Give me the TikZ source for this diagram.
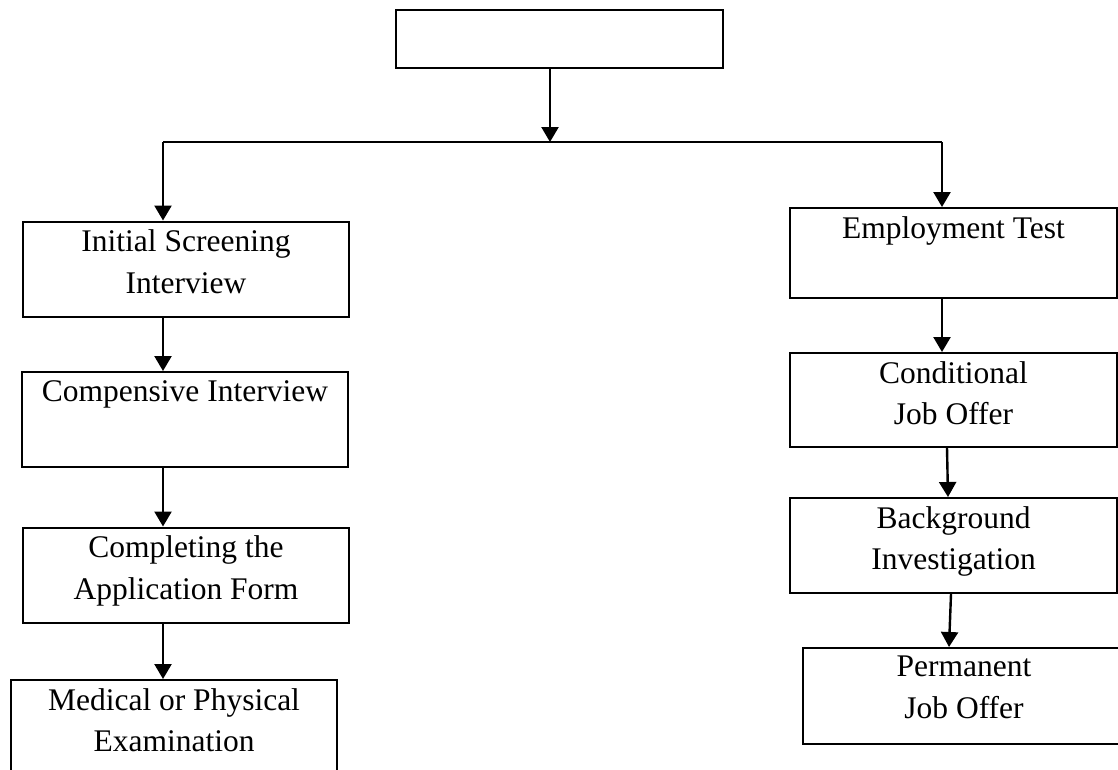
\documentclass[tikz,border=0pt]{standalone}
\usepackage{fontspec}
\setmainfont{Liberation Serif}
\usetikzlibrary{arrows.meta,positioning}

\begin{document}
\begin{tikzpicture}[x=1pt,y=-1pt,>={Triangle[length=15pt,width=17pt]},
  box/.style={draw,line width=2pt,minimum width=326pt,minimum height=95pt,inner sep=0pt},
  txt/.style={align=center,inner sep=0pt,font=\fontsize{31.5}{41.5}\selectfont},
  arr/.style={->,line width=2.4pt}]
  \useasboundingbox (0,0) rectangle (1118,769);
  \clip (0,0) rectangle (1118,769);

  % boxes
  \node[box,minimum width=327pt,minimum height=58pt] (top) at (559.5,39) {};
  \node[box] (init) at (186,269) {};
  \node[box] (comp) at (185,419.5) {};
  \node[box] (form) at (186,575) {};
  \node[box,minimum height=110pt] (med) at (174,735) {};
  \node[box,minimum width=327pt,minimum height=90pt] (test) at (953.5,253) {};
  \node[box,minimum width=327pt,minimum height=94pt] (cjo) at (953.5,400) {};
  \node[box,minimum width=327pt] (bg) at (953.5,545.5) {};
  \node[box,minimum width=322pt,minimum height=96pt] (pjo) at (964,696) {};

  % texts
  \node[txt,below=9pt of init.north] (init-t) {Initial Screening\\Interview};
  \node[txt,below=9pt of comp.north] (comp-t) {Compensive Interview};
  \node[txt,below=9pt of form.north] (form-t) {Completing the\\Application Form};
  \node[txt,below=9pt of med.north] (med-t) {Medical or Physical\\Examination};
  \node[txt,below=9pt of test.north] (test-t) {Employment Test};
  \node[txt,below=9pt of cjo.north] (cjo-t) {Conditional\\Job Offer};
  \node[txt,below=9pt of bg.north] (bg-t) {Background\\Investigation};
  \node[txt,below=9pt of pjo.north] (pjo-t) {Permanent\\Job Offer};

  \coordinate (split) at (550,142);
  \coordinate (lcorner) at (163,142);
  \coordinate (rcorner) at (942,142);

  \draw[line width=2pt] (lcorner) -- (rcorner);
  \draw[arr] ([xshift=-9.5pt]top.south) -- (split);

  \path[arr] (lcorner) edge (lcorner |- init.north)
             (init.south -| lcorner) edge (comp.north -| lcorner)
             (comp.south -| lcorner) edge (form.north -| lcorner)
             (form.south -| lcorner) edge (med.north -| lcorner)
             (rcorner) edge (rcorner |- test.north)
             (test.south -| rcorner) edge (cjo.north -| rcorner)
             ([xshift=-6.5pt]cjo.south) edge ([xshift=-5.5pt]bg.north)
             ([xshift=-2.5pt]bg.south) edge ([xshift=-15pt]pjo.north);
\end{tikzpicture}
\end{document}
